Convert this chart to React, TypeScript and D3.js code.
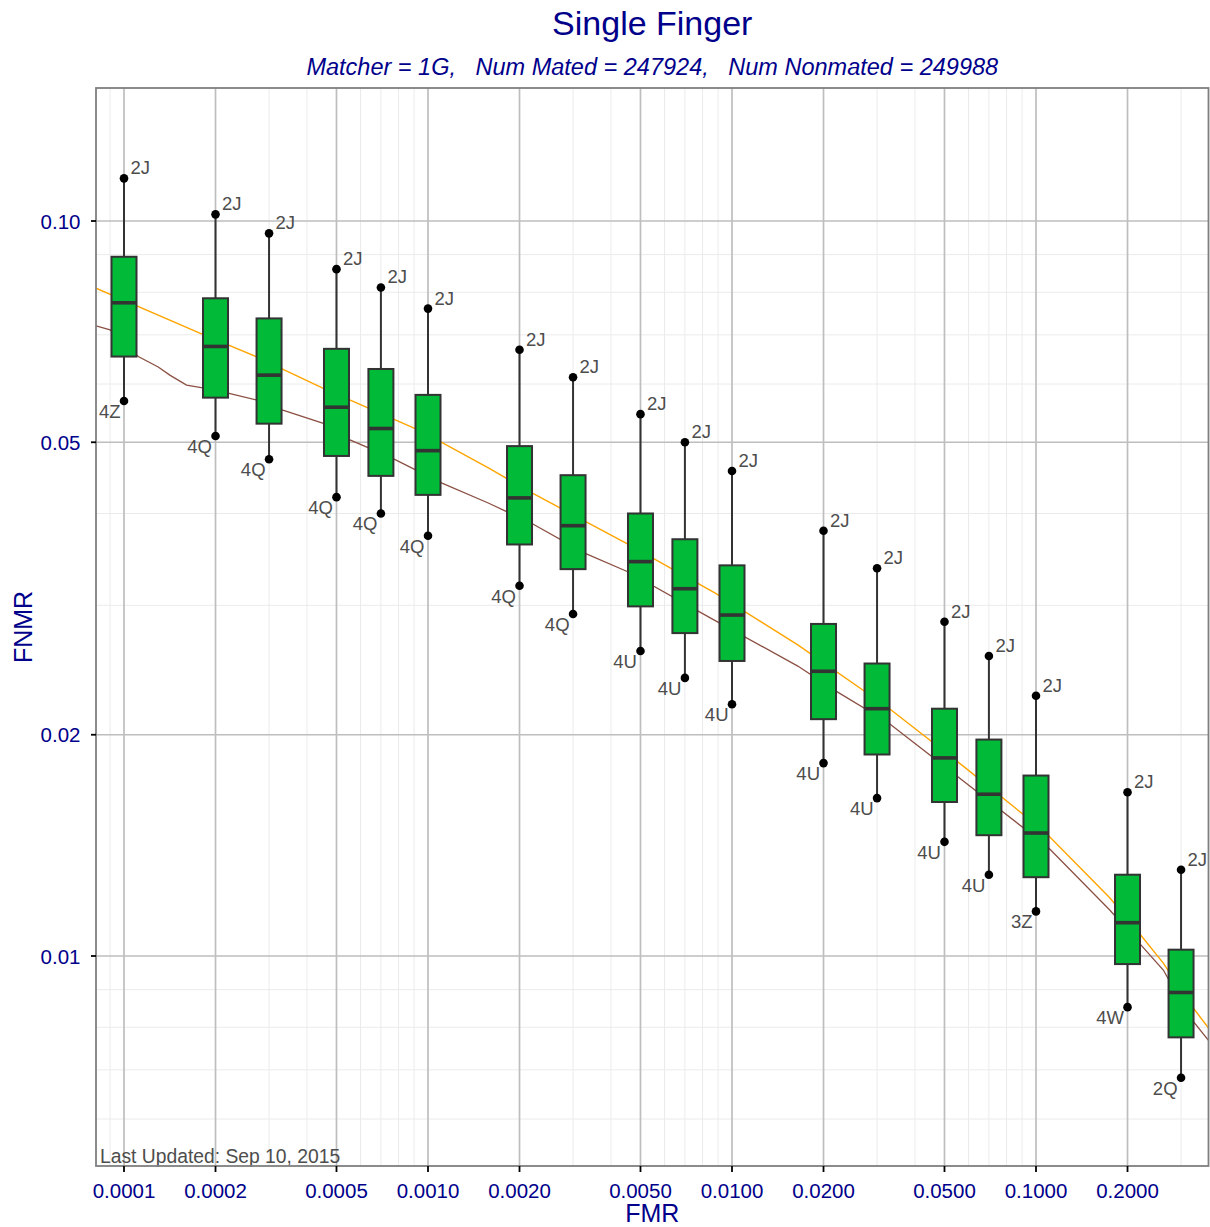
import React from "react";
import * as d3 from "d3";

const fmrLevels = [0.0001, 0.0002, 0.0003, 0.0005, 0.0007, 0.001, 0.002, 0.003, 0.005, 0.007, 0.01, 0.02, 0.03, 0.05, 0.07, 0.1, 0.2, 0.3];
const whiskerHigh = [0.1143, 0.1021, 0.0962, 0.086, 0.0812, 0.076, 0.0668, 0.0613, 0.0546, 0.05, 0.0457, 0.0379, 0.0337, 0.0285, 0.0256, 0.0226, 0.0167, 0.0131];
const q3 = [0.0894, 0.0785, 0.0737, 0.067, 0.0629, 0.058, 0.0494, 0.0451, 0.04, 0.0369, 0.034, 0.0283, 0.025, 0.0217, 0.0197, 0.0176, 0.0129, 0.0102];
const median = [0.0774, 0.0675, 0.0617, 0.0558, 0.0522, 0.0487, 0.042, 0.0385, 0.0344, 0.0316, 0.0291, 0.0244, 0.0217, 0.0186, 0.0166, 0.0147, 0.0111, 0.00892];
const q1 = [0.0654, 0.0575, 0.053, 0.0479, 0.045, 0.0424, 0.0363, 0.0336, 0.0299, 0.0275, 0.0252, 0.021, 0.0188, 0.0162, 0.0146, 0.0128, 0.00975, 0.00775];
const whiskerLow = [0.0569, 0.051, 0.0474, 0.0421, 0.04, 0.0373, 0.0319, 0.0292, 0.026, 0.0239, 0.022, 0.0183, 0.0164, 0.0143, 0.0129, 0.0115, 0.00852, 0.00683];
const highLabels = ["2J", "2J", "2J", "2J", "2J", "2J", "2J", "2J", "2J", "2J", "2J", "2J", "2J", "2J", "2J", "2J", "2J", "2J"];
const lowLabels = ["4Z", "4Q", "4Q", "4Q", "4Q", "4Q", "4Q", "4Q", "4U", "4U", "4U", "4U", "4U", "4U", "4U", "3Z", "4W", "2Q"];

const orangeFmr = [8.09e-5, 1.775e-4, 2.72e-4, 4.49e-4, 9.56e-4, 1.585e-3, 2.19e-3, 4.45e-3, 8.78e-3, 0.01646, 0.0325, 0.0579, 0.106, 0.1748, 0.2143, 0.2623, 0.3198, 0.372];
const orangeFnmr = [0.081, 0.0704, 0.0654, 0.0593, 0.0517, 0.0461, 0.0427, 0.0365, 0.0312, 0.0265, 0.0218, 0.0181, 0.0148, 0.012, 0.01085, 0.00978, 0.00863, 0.00795];

const brownFmr = [8.09e-5, 9.0e-5, 1.114e-4, 1.296e-4, 1.415e-4, 1.606e-4, 1.816e-4, 2.198e-4, 2.723e-4, 3.33e-4, 4.5e-4, 5.51e-4, 7.45e-4, 9.56e-4, 1.112e-3, 1.585e-3, 2.19e-3, 3.29e-3, 4.56e-3, 8.54e-3, 0.01646, 0.02171, 0.0325, 0.05374, 0.1087, 0.1748, 0.2143, 0.2623, 0.3198, 0.372];
const brownFnmr = [0.072, 0.0711, 0.0654, 0.0633, 0.0617, 0.0598, 0.0593, 0.0583, 0.0571, 0.0553, 0.0531, 0.0504, 0.0478, 0.0454, 0.044, 0.0413, 0.0388, 0.0353, 0.0333, 0.0288, 0.0248, 0.023, 0.0208, 0.0177, 0.0141, 0.01155, 0.01051, 0.00957, 0.00827, 0.00765];

const xTicks = [0.0001, 0.0002, 0.0005, 0.001, 0.002, 0.005, 0.01, 0.02, 0.05, 0.1, 0.2];
const yTicks = [0.01, 0.02, 0.05, 0.1];

const W = 1210;
const H = 1227;
const left = 96;
const right = 1208.5;
const top = 88;
const bottom = 1166;

const x = d3.scaleLog().domain([1e-4, 0.1]).range([124, 1036]);
const y = d3.scaleLog().domain([0.1, 0.01]).range([221, 956]);

function minorValues(lo: number, hi: number, majors: number[]) {
  const out: number[] = [];
  for (let e = -6; e <= 1; e++) {
    for (let m = 1; m <= 9; m++) {
      const v = +(m * Math.pow(10, e)).toPrecision(6);
      if (v >= lo && v <= hi && !majors.some((t) => Math.abs(t - v) / v < 1e-6)) out.push(v);
    }
  }
  return out;
}

export default function App() {
  const xLo = x.invert(left);
  const xHi = x.invert(right);
  const yHi = y.invert(top);
  const yLo = y.invert(bottom);
  const xMinor = minorValues(xLo, xHi, xTicks);
  const yMinor = minorValues(yLo, yHi, yTicks);

  const line = d3
    .line<[number, number]>()
    .x((d) => x(d[0]))
    .y((d) => y(d[1]));
  const orangePts = orangeFmr.map((f, i) => [f, orangeFnmr[i]] as [number, number]);
  const brownPts = brownFmr.map((f, i) => [f, brownFnmr[i]] as [number, number]);

  const boxW = 25;
  const font = "'Liberation Sans', Arial, Helvetica, sans-serif";
  const blue = "#00008B";

  return (
    <div style={{ position: "absolute", left: 0, top: 0 }}>
      <svg width={W} height={H} style={{ display: "block", fontFamily: font }}>
        <defs>
          <clipPath id="panel">
            <rect x={left} y={top} width={right - left} height={bottom - top} />
          </clipPath>
        </defs>
        <rect x={0} y={0} width={W} height={H} fill="#fff" />
        {/* minor grid */}
        <g stroke="#EBEBEB" strokeWidth={1}>
          {xMinor.map((v) => (
            <line key={"xm" + v} x1={x(v)} x2={x(v)} y1={top} y2={bottom} />
          ))}
          {yMinor.map((v) => (
            <line key={"ym" + v} x1={left} x2={right} y1={y(v)} y2={y(v)} />
          ))}
        </g>
        {/* major grid */}
        <g stroke="#BEBEBE" strokeWidth={1.7}>
          {xTicks.map((v) => (
            <line key={"xM" + v} x1={x(v)} x2={x(v)} y1={top} y2={bottom} />
          ))}
          {yTicks.map((v) => (
            <line key={"yM" + v} x1={left} x2={right} y1={y(v)} y2={y(v)} />
          ))}
        </g>
        {/* curves */}
        <g clipPath="url(#panel)" fill="none">
          <path d={line(brownPts) || ""} stroke="#8B5043" strokeWidth={1.3} />
          <path d={line(orangePts) || ""} stroke="#FFA500" strokeWidth={1.4} />
        </g>
        {/* boxes */}
        {fmrLevels.map((f, i) => {
          const cx = x(f);
          return (
            <g key={"b" + i}>
              <line x1={cx} x2={cx} y1={y(whiskerHigh[i])} y2={y(whiskerLow[i])} stroke="#333333" strokeWidth={2} />
              <rect
                x={cx - boxW / 2}
                y={y(q3[i])}
                width={boxW}
                height={y(q1[i]) - y(q3[i])}
                fill="#00BA38"
                stroke="#333333"
                strokeWidth={2}
              />
              <line x1={cx - boxW / 2} x2={cx + boxW / 2} y1={y(median[i])} y2={y(median[i])} stroke="#333333" strokeWidth={3.6} />
              <circle cx={cx} cy={y(whiskerHigh[i])} r={4.3} fill="#000" />
              <circle cx={cx} cy={y(whiskerLow[i])} r={4.3} fill="#000" />
              <text x={cx + 6.5} y={y(whiskerHigh[i]) - 4} fontSize={18.5} fill="#4D4D4D">
                {highLabels[i]}
              </text>
              <text x={cx - 3.5} y={y(whiskerLow[i]) + 17} fontSize={18.5} fill="#4D4D4D" textAnchor="end">
                {lowLabels[i]}
              </text>
            </g>
          );
        })}
        {/* last updated */}
        <text x={100} y={1163} fontSize={19.3} fill="#4D4D4D">
          Last Updated: Sep 10, 2015
        </text>
        {/* panel border */}
        <rect x={left} y={top} width={right - left} height={bottom - top} fill="none" stroke="#7F7F7F" strokeWidth={1.8} />
        {/* x axis ticks */}
        <g>
          {xTicks.map((v) => (
            <g key={"xt" + v}>
              <line x1={x(v)} x2={x(v)} y1={bottom} y2={bottom + 6} stroke="#000" strokeWidth={1.8} />
              <text x={x(v)} y={1198} textAnchor="middle" fontSize={20.5} fill={blue}>
                {d3.format(".4f")(v)}
              </text>
            </g>
          ))}
        </g>
        {/* y axis ticks */}
        <g>
          {yTicks.map((v) => (
            <g key={"yt" + v}>
              <line x1={left - 5} x2={left} y1={y(v)} y2={y(v)} stroke="#000" strokeWidth={1.8} />
              <text x={80.5} y={y(v) + 7.5} textAnchor="end" fontSize={20.5} fill={blue}>
                {d3.format(".2f")(v)}
              </text>
            </g>
          ))}
        </g>
        {/* axis titles */}
        <text x={(left + right) / 2} y={1222} textAnchor="middle" fontSize={25} fill={blue}>
          FMR
        </text>
        <text
          transform={`translate(31.5, ${(top + bottom) / 2}) rotate(-90)`}
          textAnchor="middle"
          fontSize={25}
          fill={blue}
        >
          FNMR
        </text>
        {/* titles */}
        <text x={(left + right) / 2} y={35} textAnchor="middle" fontSize={34} fill={blue}>
          Single Finger
        </text>
        <text x={(left + right) / 2} y={75} textAnchor="middle" fontSize={23.5} fontStyle="italic" fill={blue} xmlSpace="preserve">
          {"Matcher = 1G,   Num Mated = 247924,   Num Nonmated = 249988"}
        </text>
      </svg>
    </div>
  );
}
